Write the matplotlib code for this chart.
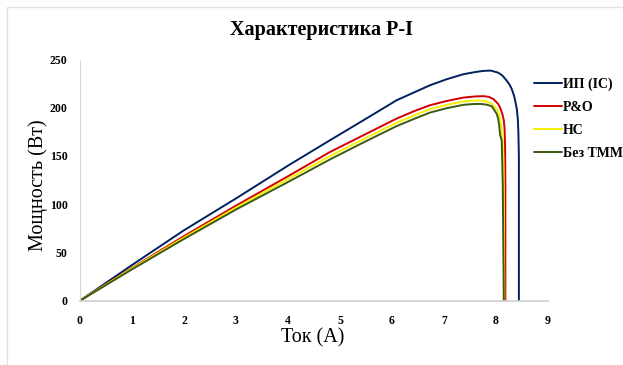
import matplotlib
matplotlib.use("Agg")
import matplotlib.pyplot as plt
from matplotlib.patches import Rectangle

plt.rcParams.update({
    'font.family': ['Liberation Serif', 'DejaVu Serif'],
    'figure.dpi': 100,
})

# P-I curves (current in A, power in W)
ic_current = [0, 1, 2, 3, 4, 4.81, 5.45, 6.09, 6.45, 6.73, 7.05, 7.37, 7.6, 7.76, 7.9, 8.04, 8.12, 8.2,
              8.26, 8.3, 8.35, 8.4, 8.42, 8.43, 8.44, 8.44]
ic_power = [0, 37, 73, 106, 140, 166.4, 187, 207.8, 216.5, 223.3, 229.5, 234.7, 237, 238.2, 238.5, 236.4, 233.5, 228.5,
            224, 219.8, 212, 199, 188, 175, 150, 0]

po_current = [0, 1, 2, 3, 4, 4.81, 5.45, 6.09, 6.45, 6.73, 7.05, 7.37, 7.6, 7.76, 7.86, 7.95, 8.04, 8.08,
              8.1, 8.13, 8.15, 8.165, 8.175, 8.18, 8.18]
po_power = [0, 34, 67, 98.5, 129, 154.2, 171.5, 188.8, 197, 202.6, 207, 210.5, 211.7, 212, 211.3, 209, 204, 200,
            197, 192, 187, 178, 160, 120, 0]

hc_current = [0, 1, 2, 3, 4, 4.81, 5.45, 6.09, 6.45, 6.73, 7.05, 7.37, 7.55, 7.69, 7.82, 7.92, 8.03, 8.07,
              8.09, 8.12, 8.14, 8.15, 8.16]
hc_power = [0, 33.5, 65.5, 96.5, 126, 150, 167.5, 184.5, 192.5, 198.5, 203, 206.5, 207.3, 207.5, 206.5, 204, 197, 191,
            185, 171.5, 150, 110, 0]

no_current = [0, 1, 2, 3, 4, 4.81, 5.45, 6.09, 6.45, 6.73, 7.05, 7.37, 7.55, 7.69, 7.82, 7.92, 8.01, 8.04,
              8.06, 8.08, 8.11, 8.13, 8.15]
no_power = [0, 32.5, 64, 94.5, 123, 146.5, 164, 181, 189, 195, 199.5, 203, 203.8, 204, 203.2, 201.5, 194, 189,
            182, 171.5, 166, 120, 0]

labels = ['ИП (IC)', 'P&O', 'HC', 'Без ТММ']
colors = ['#002060', '#D40000', '#F5F000', '#3B5A14']

x_ticks = [0, 1, 2, 3, 4, 5, 6, 7, 8, 9]
y_ticks = [0, 50, 100, 150, 200, 250]

fig = plt.figure(figsize=(6.23, 3.65))
fig.patch.set_facecolor('#FDFDFD')
fig.patches.append(Rectangle((7 / 623, -0.1), 1.2, 1 - 7 / 365 + 0.1,
                             transform=fig.transFigure, facecolor='white',
                             edgecolor='#E2E2E2', linewidth=1.0, zorder=-5))

ax = fig.add_axes([80 / 623, 1 - 300.7 / 365, 468 / 623, 241.2 / 365])
ax.set_facecolor('none')

series = [(ic_current, ic_power), (po_current, po_power),
          (hc_current, hc_power), (no_current, no_power)]
for (cur, pw), label, color in zip(series, labels, colors):
    ax.plot(cur, pw, color=color, linewidth=1.4, label=label,
            solid_joinstyle='round', solid_capstyle='round')

ax.set_xlim(0, 9)
ax.set_ylim(0, 250)
ax.set_xticks(x_ticks)
ax.set_yticks(y_ticks)
ax.tick_params(length=0, labelsize=8.5)
ax.tick_params(axis='x', pad=10)
ax.tick_params(axis='y', pad=9)
for lbl in ax.get_xticklabels() + ax.get_yticklabels():
    lbl.set_fontweight('bold')

for side in ['top', 'right']:
    ax.spines[side].set_visible(False)
ax.spines['left'].set_color('#D9D9D9')
ax.spines['bottom'].set_color('#CFCFCF')
ax.spines['bottom'].set_linewidth(1.2)

fig.text(321 / 623, 1 - 30 / 365, 'Характеристика P-I', ha='center', va='center',
         fontsize=14.5, fontweight='bold')
fig.text(313 / 623, 1 - 338 / 365, 'Ток (A)', ha='center', va='center', fontsize=14.5)
fig.text(38 / 623, 1 - 185 / 365, 'Мощность (Вт)', ha='center', va='center',
         fontsize=14.5, rotation=90)

ax.legend(loc='upper left', bbox_to_anchor=(534 / 623, 1 - 78 / 365),
          bbox_transform=fig.transFigure, frameon=False,
          prop={'weight': 'bold', 'size': 10}, handlelength=2.0,
          handletextpad=0.1, labelspacing=0.7, borderaxespad=0, borderpad=0)

fig.savefig('out.png', dpi=100)
